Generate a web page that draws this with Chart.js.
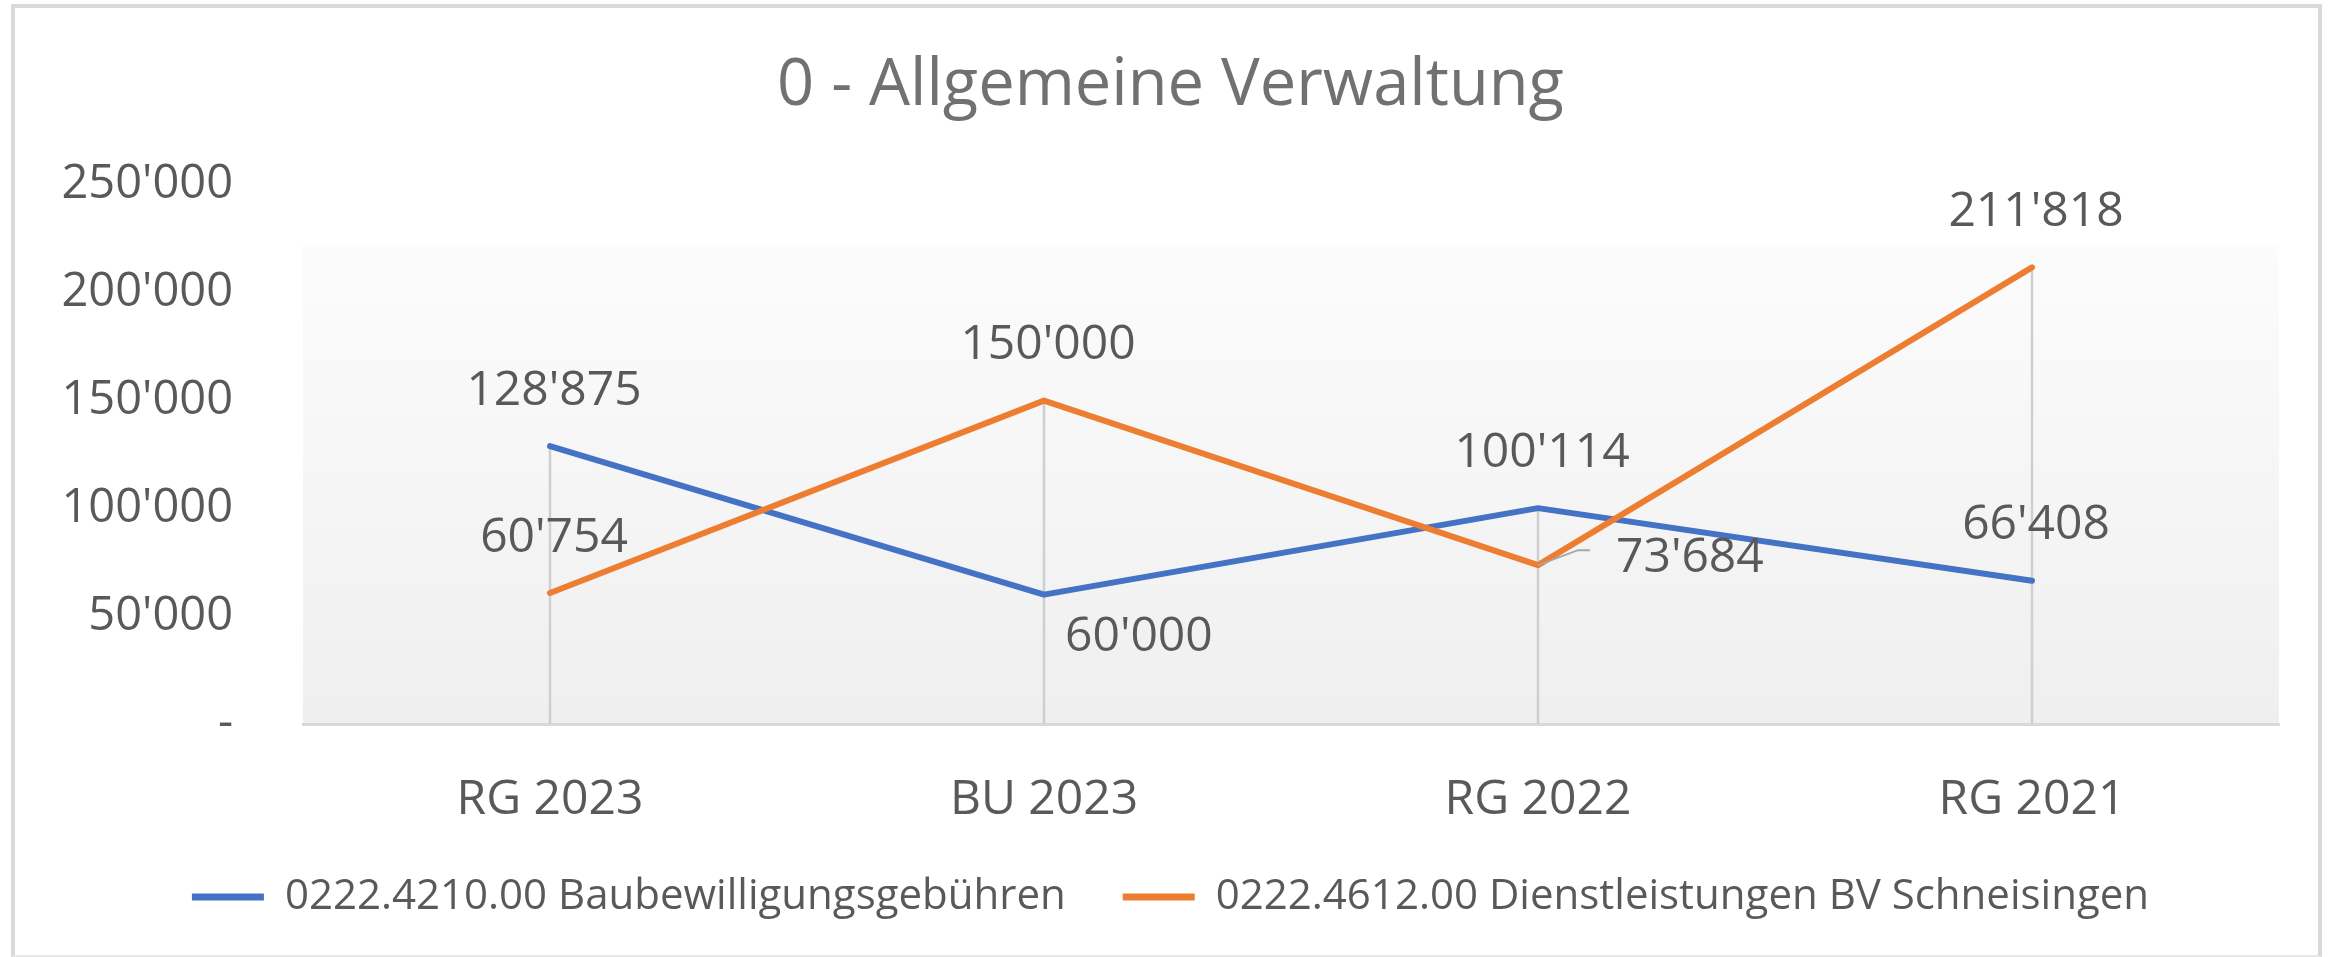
<!DOCTYPE html>
<html lang="de">
<head>
    <meta charset="UTF-8">
    <title>0 - Allgemeine Verwaltung</title>
    <script src="https://cdn.jsdelivr.net/npm/chart.js"></script>
    <style>
        body {
            margin: 0;
            background: #fff;
            font-family: 'Open Sans', sans-serif;
        }
        .chart-wrap {
            position: relative;
            width: 2328px;
            height: 957px;
        }
        /* light grey Excel chart border */
        .chart-frame {
            position: absolute;
            left: 11px;
            top: 4px;
            width: 2311px;
            height: 953px;
            box-sizing: border-box;
            border: 4px solid #d9d9d9;
            border-bottom: 2px solid #e8e8e8;
            pointer-events: none;
        }
    </style>
</head>
<body>
    <div class="chart-wrap">
        <canvas id="chart"></canvas>
        <div class="chart-frame"></div>
    </div>

    <script>
        // Data
        const categories = ['RG 2023', 'BU 2023', 'RG 2022', 'RG 2021'];
        const seriesNames = [
            '0222.4210.00 Baubewilligungsgebühren',
            '0222.4612.00 Dienstleistungen BV Schneisingen'
        ];
        const baubewilligung = [128875, 60000, 100114, 66408];
        const dienstleistungen = [60754, 150000, 73684, 211818];

        // Where each data label sits relative to its point
        const labelPlacement = [
            ['above', 'belowRight', 'above', 'above'],
            ['above', 'above', 'rightLeader', 'above']
        ];

        const FONT = 'Open Sans';
        const TEXT = '#595959';
        const LABEL_SIZE = 48;

        // 128875 -> 128'875, 0 -> "-"
        function fmt(v) {
            if (v === 0) return '-';
            return String(v).replace(/\B(?=(\d{3})+(?!\d))/g, "'");
        }

        // Gradient fill behind the plot area (white at the top, light grey at the bottom)
        const plotBackground = {
            id: 'plotBackground',
            beforeDraw(chart) {
                const { ctx, chartArea: a } = chart;
                const top = a.top + (a.bottom - a.top) * 0.11;
                const g = ctx.createLinearGradient(0, top, 0, a.bottom);
                g.addColorStop(0, '#fcfcfc');
                g.addColorStop(1, '#efefef');
                ctx.save();
                ctx.fillStyle = g;
                ctx.fillRect(a.left, top, a.right - a.left, a.bottom - top);
                ctx.restore();
            }
        };

        // Drop lines from the highest point of each category down to the axis
        const dropLines = {
            id: 'dropLines',
            beforeDatasetsDraw(chart) {
                const { ctx, chartArea: a, scales } = chart;
                const sets = chart.data.datasets;
                ctx.save();
                ctx.strokeStyle = '#cfcfcf';
                ctx.lineWidth = 2.5;
                categories.forEach((c, i) => {
                    const top = Math.max(...sets.map(d => d.data[i]));
                    const x = scales.x.getPixelForValue(i);
                    ctx.beginPath();
                    ctx.moveTo(x, scales.y.getPixelForValue(top));
                    ctx.lineTo(x, a.bottom);
                    ctx.stroke();
                });
                ctx.restore();
            }
        };

        // Value labels next to the points
        const valueLabels = {
            id: 'valueLabels',
            afterDatasetsDraw(chart) {
                const ctx = chart.ctx;
                ctx.save();
                ctx.font = LABEL_SIZE + 'px "' + FONT + '"';
                ctx.fillStyle = TEXT;
                ctx.textBaseline = 'middle';
                chart.data.datasets.forEach((ds, di) => {
                    const meta = chart.getDatasetMeta(di);
                    meta.data.forEach((pt, i) => {
                        const text = fmt(ds.data[i]);
                        const place = labelPlacement[di][i];
                        if (place === 'above') {
                            ctx.textAlign = 'center';
                            ctx.fillText(text, pt.x + 4, pt.y - 55);
                        } else if (place === 'belowRight') {
                            ctx.textAlign = 'left';
                            ctx.fillText(text, pt.x + 21, pt.y + 43);
                        } else if (place === 'rightLeader') {
                            ctx.strokeStyle = '#a6a6a6';
                            ctx.lineWidth = 2;
                            ctx.beginPath();
                            ctx.moveTo(pt.x, pt.y);
                            ctx.lineTo(pt.x + 40, pt.y - 15);
                            ctx.lineTo(pt.x + 52, pt.y - 15);
                            ctx.stroke();
                            ctx.textAlign = 'left';
                            ctx.fillText(text, pt.x + 78, pt.y - 7);
                        }
                    });
                });
                ctx.restore();
            }
        };

        const ctx = document.getElementById('chart').getContext('2d');
        new Chart(ctx, {
            type: 'line',
            data: {
                labels: categories,
                datasets: [
                    {
                        label: seriesNames[0],
                        data: baubewilligung,
                        borderColor: '#4472c4',
                        backgroundColor: '#4472c4',
                        pointBorderColor: '#4472c4',
                        order: 1
                    },
                    {
                        label: seriesNames[1],
                        data: dienstleistungen,
                        borderColor: '#ed7d31',
                        backgroundColor: '#ed7d31',
                        pointBorderColor: '#ed7d31',
                        order: 0
                    }
                ]
            },
            options: {
                responsive: true,
                maintainAspectRatio: false,
                animation: false,
                elements: {
                    line: {
                        borderWidth: 6,
                        tension: 0,
                        fill: false,
                        borderCapStyle: 'round',
                        borderJoinStyle: 'round'
                    },
                    // points are hidden; their border width only sets the legend line
                    point: { radius: 0, hoverRadius: 0, borderWidth: 7 }
                },
                layout: {
                    padding: { top: 20, left: 62, right: 49, bottom: 29 }
                },
                scales: {
                    x: {
                        offset: true,
                        grid: { display: false, drawTicks: false },
                        border: { display: true, color: '#d9d9d9', width: 3 },
                        ticks: {
                            color: TEXT,
                            padding: 48,
                            font: { family: FONT, size: LABEL_SIZE }
                        },
                        afterFit: s => { s.height = 95; }
                    },
                    y: {
                        min: 0,
                        max: 250000,
                        grid: { display: false, drawTicks: false },
                        border: { display: false },
                        ticks: {
                            stepSize: 50000,
                            color: TEXT,
                            padding: 70,
                            font: { family: FONT, size: 47 },
                            callback: v => fmt(v)
                        },
                        afterFit: s => { s.width = 241; }
                    }
                },
                plugins: {
                    title: {
                        display: true,
                        text: '0 - Allgemeine Verwaltung',
                        color: '#717171',
                        font: { family: FONT, size: 65, weight: 'normal' },
                        padding: { top: 27, bottom: 60 }
                    },
                    legend: {
                        position: 'bottom',
                        labels: {
                            usePointStyle: true,
                            pointStyle: 'line',
                            pointStyleWidth: 72,
                            padding: 57,
                            color: TEXT,
                            font: { family: FONT, size: 42 },
                            sort: (a, b) => a.datasetIndex - b.datasetIndex
                        }
                    },
                    tooltip: { enabled: false }
                }
            },
            plugins: [plotBackground, dropLines, valueLabels]
        });
    </script>
</body>
</html>
